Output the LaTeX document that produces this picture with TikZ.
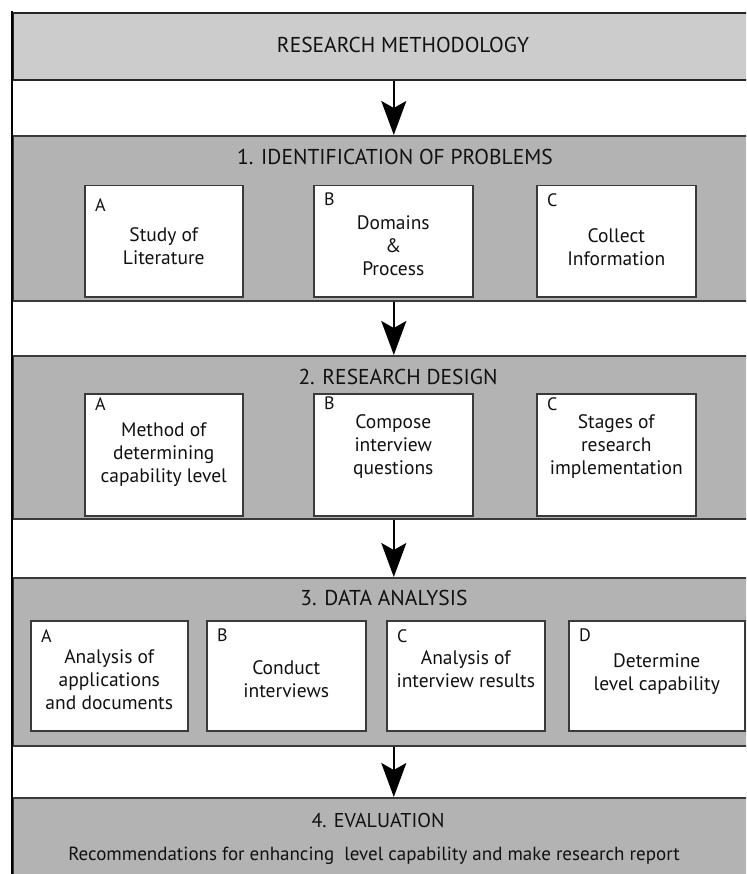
\documentclass[tikz,border=0pt]{standalone}
\usepackage{fontspec}
\setmainfont{PT Sans}
\usetikzlibrary{arrows.meta}
\definecolor{topgray}{HTML}{CCCCCC}
\definecolor{secgray}{HTML}{B3B3B3}
\definecolor{edgegray}{HTML}{3A3A3A}
\definecolor{inkcol}{HTML}{111111}
\begin{document}
\begin{tikzpicture}[x=1pt,y=-1pt,
  topbox/.style={draw=black!85,line width=1.6pt,fill=topgray,minimum width=762pt,anchor=north west,inner sep=0pt},
  secbox/.style={draw=edgegray,line width=1.6pt,fill=secgray,minimum width=762pt,anchor=north west,inner sep=0pt},
  inbox/.style={draw=edgegray,line width=1.5pt,fill=white,anchor=north west,inner sep=0pt},
  titletext/.style={font=\fontsize{21.5}{24}\selectfont,inner sep=0pt,text=inkcol},
  bodytext/.style={font=\fontsize{19.5}{23}\selectfont,align=center,inner sep=0pt,text=inkcol},
  lettertext/.style={font=\fontsize{18}{20}\selectfont,anchor=north west,inner sep=0pt,text=inkcol},
  arr/.style={-{Stealth[length=34pt,width=25pt,inset=7pt]},line width=1.8pt,black}
]
\useasboundingbox (0,0) rectangle (746,874);
\clip (0,0) rectangle (746,874);
\fill[white] (0,0) rectangle (746,874);

% main boxes
\node[topbox,minimum height=67pt] (top) at (12,12) {};
\node[secbox,minimum height=165pt] (s1) at (12,135) {};
\node[secbox,minimum height=163pt] (s2) at (12,355) {};
\node[secbox,minimum height=168pt] (s3) at (12,577) {};
\node[secbox,minimum height=120pt] (s4) at (12,797) {};

% left frame line
\coordinate (frameTL) at (12,11);
\coordinate (frameBL) at (12,874);
\draw[line width=2.2pt,black] (frameTL) -- (frameBL);

% titles
\node[titletext] (h0) at (403,45) {RESEARCH METHODOLOGY};
\node[titletext] (h1) at (395,157) {1. IDENTIFICATION OF PROBLEMS};
\node[titletext] (h2) at (398,377) {2. RESEARCH DESIGN};
\node[titletext] (h3) at (384,598) {3. DATA ANALYSIS};
\node[titletext,font=\fontsize{20}{22}\selectfont] (h4) at (378,820) {4. EVALUATION};
\node[titletext,font=\fontsize{19}{22}\selectfont] (t4) at (374,856) {Recommendations for enhancing~ level capability and make research report};

% section 1 inner boxes
\node[inbox,minimum width=158pt,minimum height=111pt] (b1a) at (84,185) {};
\node[inbox,minimum width=159pt,minimum height=111pt] (b1b) at (313,185) {};
\node[inbox,minimum width=159pt,minimum height=111pt] (b1c) at (536,185) {};
\node[lettertext,xshift=11pt,yshift=-14pt] (l1a) at (b1a.north west) {A};
\node[lettertext,xshift=11pt,yshift=-8pt] (l1b) at (b1b.north west) {B};
\node[lettertext,xshift=11pt,yshift=-8pt] (l1c) at (b1c.north west) {C};
\node[bodytext,yshift=-5pt] (t1a) at (b1a.center) {Study of\\Literature};
\node[bodytext,yshift=-4pt] (t1b) at (b1b.center) {Domains\\\&\\Process};
\node[bodytext,yshift=-6pt] (t1c) at (b1c.center) {Collect\\Information};

% section 2 inner boxes
\node[inbox,minimum width=158pt,minimum height=122pt] (b2a) at (84,393) {};
\node[inbox,minimum width=159pt,minimum height=122pt] (b2b) at (313,393) {};
\node[inbox,minimum width=159pt,minimum height=122pt] (b2c) at (536,393) {};
\node[lettertext,xshift=11pt,yshift=-4pt] (l2a) at (b2a.north west) {A};
\node[lettertext,xshift=11pt,yshift=-4pt] (l2b) at (b2b.north west) {B};
\node[lettertext,xshift=11pt,yshift=-4pt] (l2c) at (b2c.north west) {C};
\node[bodytext,yshift=0pt] (t2a) at (b2a.center) {Method of\\determining\\capability level};
\node[bodytext,yshift=8pt] (t2b) at (b2b.center) {Compose\\interview\\questions};
\node[bodytext,yshift=8pt] (t2c) at (b2c.center) {Stages of\\research\\implementation};

% section 3 inner boxes
\node[inbox,minimum width=157pt,minimum height=110pt] (b3a) at (30,620) {};
\node[inbox,minimum width=159pt,minimum height=110pt] (b3b) at (206,620) {};
\node[inbox,minimum width=158pt,minimum height=110pt] (b3c) at (386,620) {};
\node[inbox,minimum width=176pt,minimum height=110pt] (b3d) at (568,620) {};
\node[lettertext,xshift=11pt,yshift=-9pt] (l3a) at (b3a.north west) {A};
\node[lettertext,xshift=11pt,yshift=-9pt] (l3b) at (b3b.north west) {B};
\node[lettertext,xshift=11pt,yshift=-9pt] (l3c) at (b3c.north west) {C};
\node[lettertext,xshift=11pt,yshift=-9pt] (l3d) at (b3d.north west) {D};
\node[bodytext,yshift=-4pt] (t3a) at (b3a.center) {Analysis of\\applications\\and documents};
\node[bodytext,yshift=-3pt] (t3b) at (b3b.center) {Conduct\\interviews};
\node[bodytext,yshift=7pt] (t3c) at (b3c.center) {Analysis of\\interview results};
\node[bodytext,yshift=2pt] (t3d) at (b3d.center) {Determine\\level capability};

% arrows
\draw[arr] (top.south) -- (s1.north);
\draw[arr] (s1.south) -- (s2.north);
\draw[arr] (s2.south) -- (s3.north);
\draw[arr] (s3.south) -- (s4.north);
\end{tikzpicture}
\end{document}
